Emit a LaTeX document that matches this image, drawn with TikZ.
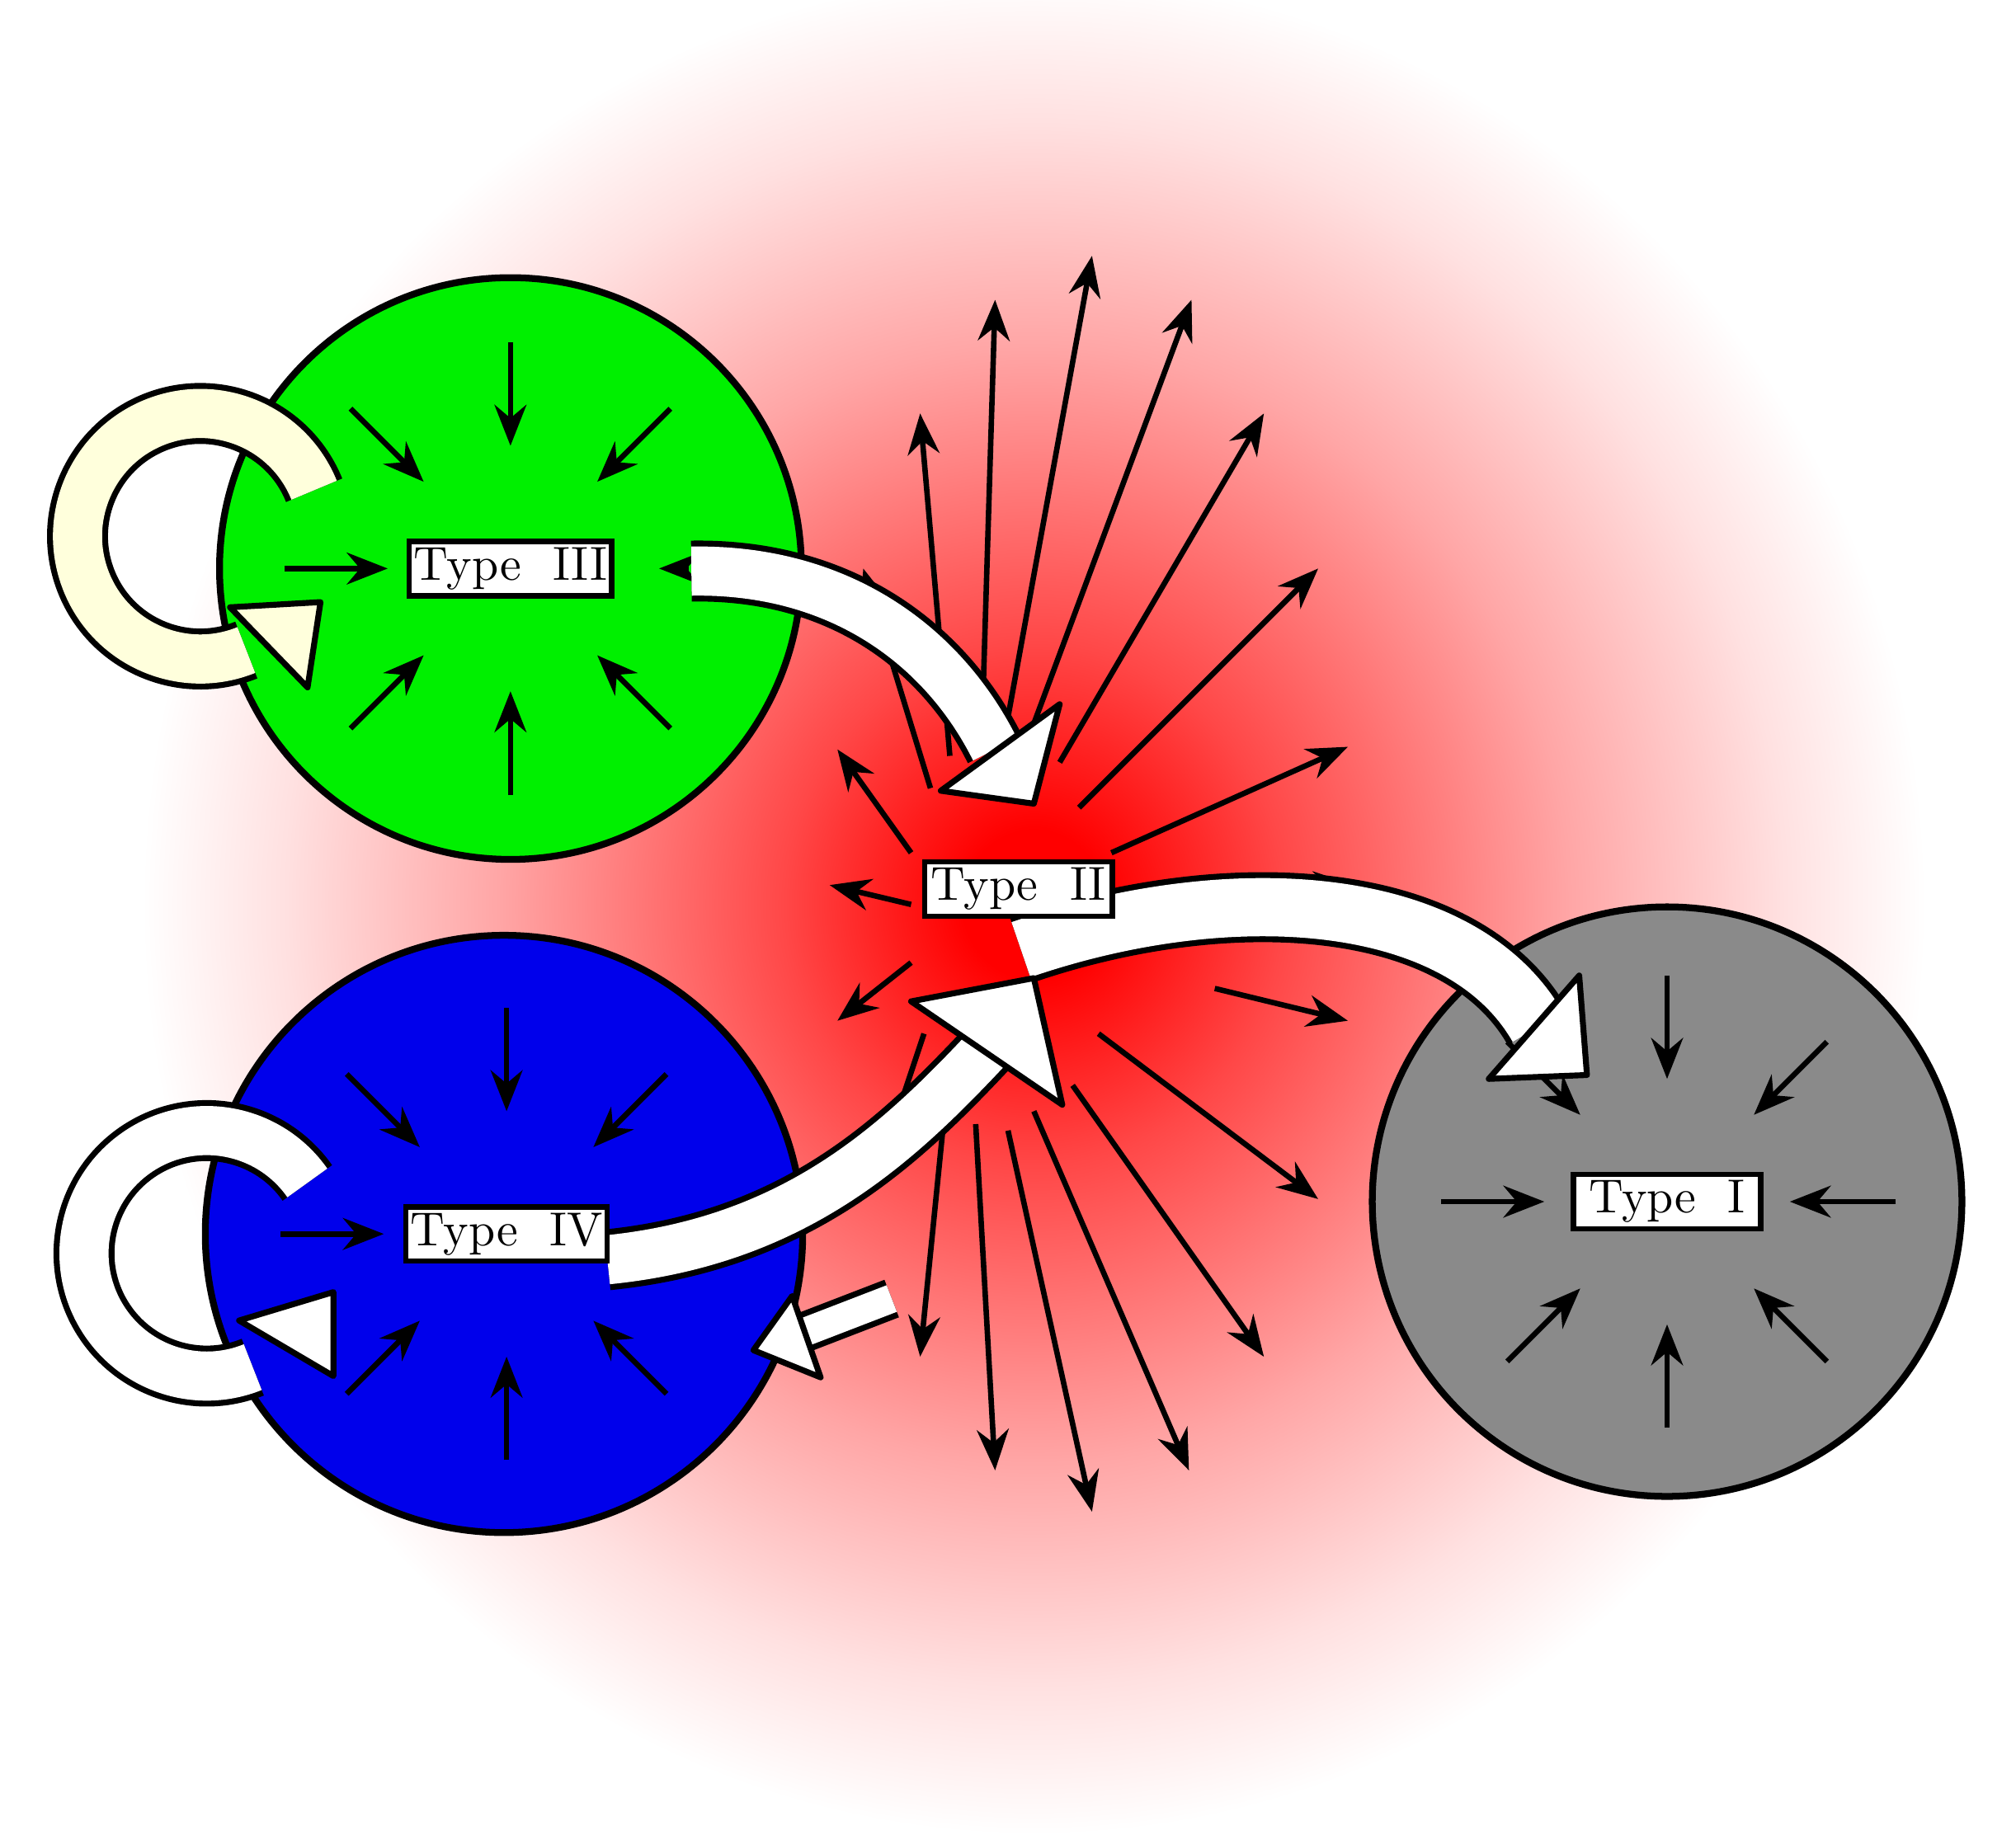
\documentclass[tikz,border=0pt]{standalone}
\usetikzlibrary{arrows.meta,calc}
\pgfdeclareradialshading{redglow}{\pgfpoint{0bp}{0bp}}{color(0bp)=(red); color(2bp)=(red); color(7bp)=(red!72); color(15bp)=(red!35); color(21bp)=(red!12); color(25bp)=(white); color(50bp)=(white)}
\begin{document}
\begin{tikzpicture}[x=0.01cm,y=-0.01cm,
  lab/.style={draw=black,fill=white,line width=1.2pt,minimum width=1.45cm,minimum height=0.42cm,inner sep=1pt,font=\fontsize{10.5}{12}\selectfont},
  ray/.style={line width=1.2pt,-{Stealth[length=9pt,width=7pt]}},
  blob/.style={draw=black,line width=1.5pt},
  fat/.style={double=white,double distance=0.38cm,line width=1.3pt,draw=black},
  head/.style={fill=white,draw=black,line width=1.3pt,line join=round}]
\useasboundingbox (0,0) rectangle (1560,1420);
\shade[shading=redglow] (800,700) ellipse [x radius=690, y radius=720];
% radial rays from Type II
\foreach \a/\b/\e/\f in {735/585/712/320, 760/560/770/232, 780/555/845/198, 800/560/922/232, 820/590/978/320, 835/625/1020/440, 860/660/1043/578, 860/695/1048/685, 940/765/1043/790, 850/800/1020/928, 830/840/978/1050, 800/860/920/1138, 780/875/845/1170, 755/870/770/1138, 730/870/712/1050, 705/745/648/790, 705/700/642/685, 705/660/648/580, 720/610/668/440}
  \draw[ray] (\a,\b) -- (\e,\f);
\draw[line width=1.2pt] (715,800) -- (700,845);
% circles
\node[blob,circle,fill={rgb,255:red,0;green,240;blue,0},minimum size=4.5cm] (g) at (395,440) {};
\node[blob,circle,fill={rgb,255:red,0;green,0;blue,235},minimum size=4.62cm] (b) at (390,955) {};
\node[blob,circle,fill={rgb,255:red,138;green,138;blue,138},minimum size=4.56cm] (k) at (1290,930) {};
% inward arrows
\foreach \cx/\cy in {395/440, 392/955, 1290/930}{
  \foreach \ang in {90,45,135,225,270,315,180}{
    \draw[ray] ($(\cx,\cy)+(\ang:175)$) -- ($(\cx,\cy)+(\ang:95)$);
  }
}
\draw[ray] (1467,930) -- (1385,930);
\draw[ray] (533,440) -- (510,440);
\draw[ray] (520,955) -- (500,955);
% loops
\draw[fat,double={rgb,255:red,255;green,255;blue,220}] (155,415) ++(-22:95) arc[start angle=-22, end angle=-292, radius=95];
\draw[head,fill={rgb,255:red,255;green,255;blue,220}] (178,470) -- (248,466) -- (238,532) -- cycle;
\draw[fat] (160,970) ++(-35:95) arc[start angle=-35, end angle=-292, radius=95];
\draw[head] (185,1022) -- (258,1000) -- (258,1065) -- cycle;
% big arrows
\draw[fat] (535,442) .. controls (650,440) and (730,500) .. (770,580);
\draw[head] (728,612) -- (820,545) -- (800,622) -- cycle;
\draw[fat,double distance=0.45cm] (790,735) .. controls (950,680) and (1130,690) .. (1190,795);
\draw[head] (1152,835) -- (1222,755) -- (1228,832) -- cycle;
\draw[fat] (470,975) .. controls (620,960) and (700,880) .. (770,805);
\draw[head] (705,775) -- (800,757) -- (822,855) -- cycle;
\draw[fat,double distance=0.22cm] (690,1005) -- (620,1032);
\draw[head] (613,1003) -- (583,1045) -- (635,1066) -- cycle;
% labels
\node[lab] (t3) at (395,440) {Type\ \ III};
\node[lab] (t4) at (392,955) {Type\ \ IV};
\node[lab] (t2) at (788,688) {Type\ \ II};
\node[lab] (t1) at (1290,930) {Type\ \ I};
\end{tikzpicture}
\end{document}
